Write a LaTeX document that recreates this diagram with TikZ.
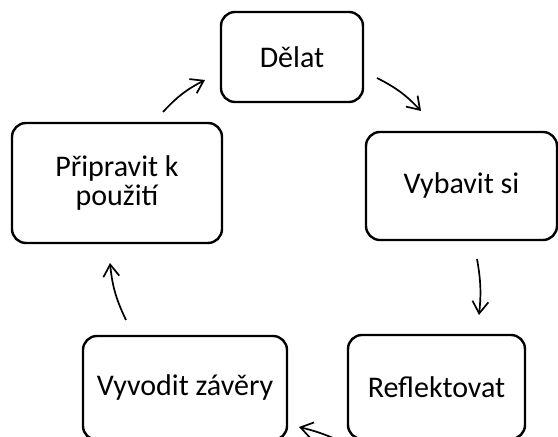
\documentclass[tikz,border=0pt]{standalone}
\usepackage{fontspec}
\setmainfont{Carlito}
\usetikzlibrary{arrows.meta}

\begin{document}
\begin{tikzpicture}[x=0.5pt,y=0.5pt,
    box/.style={draw, line width=1.2pt, rounded corners=7pt, align=center, inner sep=0pt,
        font=\fontsize{15pt}{14.5pt}\selectfont},
    arr/.style={line width=0.85pt, -{Straight Barb[length=6pt,width=8pt]}}]
    \clip (0,0) rectangle (558,437);
    % the five steps
    \node[box, minimum width=71pt, minimum height=45pt] (delat) at (292,380) {Dělat};
    \node[box, minimum width=95.5pt, minimum height=54pt] (vybavit) at (461.5,251) {Vybavit si};
    \node[box, minimum width=88.5pt, minimum height=52pt] (reflekt) at (436.5,50) {Reflektovat};
    \node[box, minimum width=102pt, minimum height=52pt] (vyvodit) at (185,49) {Vyvodit závěry};
    \node[box, minimum width=105pt, minimum height=60pt] (pripravit) at (117,254) {Připravit k\\použití};
    % arrow ends
    \coordinate (a1) at (163,325);
    \coordinate (b1) at (205,357);
    \coordinate (a2) at (377,359);
    \coordinate (b2) at (421,326);
    \coordinate (a3) at (477,178);
    \coordinate (b3) at (479,122);
    \coordinate (a4) at (340,-4);
    \coordinate (b4) at (299,10);
    \coordinate (a5) at (126,117);
    \coordinate (b5) at (110,174);
    \draw[arr] (a1) to[bend left=10] (b1);
    \draw[arr] (a2) to[bend left=10] (b2);
    \draw[arr] (a3) to[bend left=8] (b3);
    \draw[arr] (a4) to[bend right=5] (b4);
    \draw[arr] (a5) to[bend left=10] (b5);
\end{tikzpicture}
\end{document}
